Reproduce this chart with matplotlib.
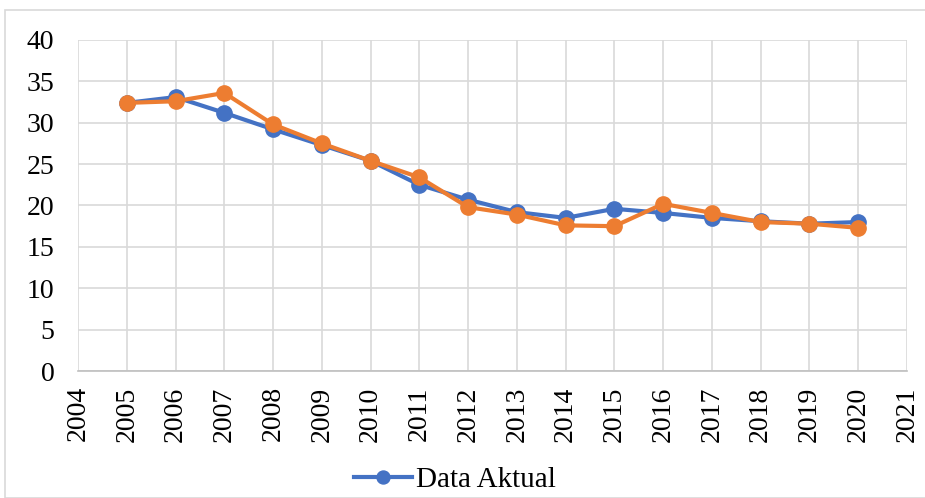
import matplotlib
matplotlib.use("Agg")
import matplotlib.pyplot as plt
from matplotlib.patches import Rectangle

years = [2005, 2006, 2007, 2008, 2009, 2010, 2011, 2012, 2013, 2014, 2015, 2016, 2017, 2018, 2019, 2020]
data_aktual = [32.4, 33.1, 31.2, 29.2, 27.3, 25.4, 22.5, 20.7, 19.2, 18.5, 19.6, 19.1, 18.5, 18.1, 17.8, 18.0]
data_prediksi = [32.4, 32.6, 33.6, 29.8, 27.5, 25.4, 23.4, 19.8, 18.9, 17.6, 17.5, 20.2, 19.1, 18.0, 17.8, 17.3]
x_ticks = list(range(2004, 2022))
y_ticks = list(range(0, 41, 5))

plt.rcParams['font.family'] = ['Liberation Serif', 'DejaVu Serif']

fig = plt.figure(figsize=(9.25, 4.98), dpi=100)
fig.patches.append(Rectangle((5/925, 0), 1.0, 1 - 10/498, transform=fig.transFigure,
                             fill=False, edgecolor='#d9d9d9', linewidth=1.2, clip_on=False))
ax = fig.add_axes([78/925, 1 - 371/498, (907 - 78)/925, (371 - 40)/498])

ax.plot(years, data_aktual, color='#4472C4', linewidth=3, marker='o', markersize=11,
        label='Data Aktual', zorder=3)
ax.plot(years, data_prediksi, color='#ED7D31', linewidth=3, marker='o', markersize=11,
        zorder=4)

ax.set_xlim(2004, 2021)
ax.set_ylim(0, 40)
ax.set_xticks(x_ticks)
ax.set_xticklabels([str(x) for x in x_ticks], rotation=90)
ax.set_yticks(y_ticks)
ax.grid(True, color='#d9d9d9', linewidth=1.2)
ax.set_axisbelow(True)
for s in ['top', 'right', 'left']:
    ax.spines[s].set_visible(False)
ax.spines['bottom'].set_color('#bfbfbf')
ax.spines['bottom'].set_linewidth(1.2)
ax.tick_params(axis='both', length=0, labelsize=20, colors='black')
ax.tick_params(axis='x', pad=11)
ax.tick_params(axis='y', pad=17)

fig.legend(loc='center', bbox_to_anchor=(455/925, 1 - 480/498), frameon=False,
           fontsize=21, handlelength=2.0, handletextpad=0.15, markerscale=0.85)

fig.savefig('out.png', dpi=100)
